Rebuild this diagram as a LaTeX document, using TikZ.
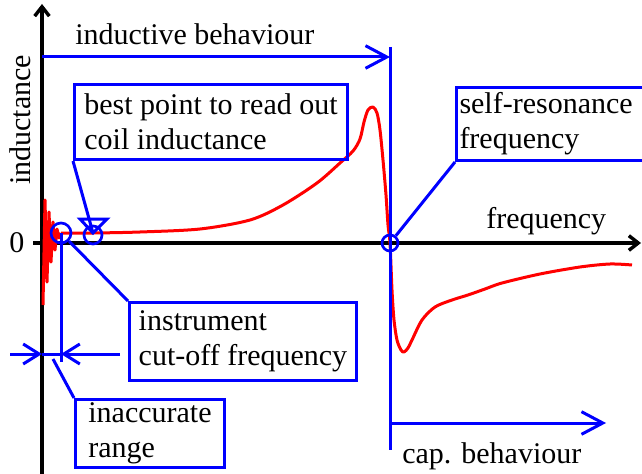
\documentclass[tikz,border=0pt]{standalone}
\usepackage{fontspec}
\setmainfont{Liberation Serif}
\usetikzlibrary{arrows.meta}
\begin{document}
\begin{tikzpicture}[x=0.75pt,y=-0.75pt,
  txt/.style={font=\fontsize{22.5pt}{26pt}\selectfont, inner sep=0pt},
  bl/.style={draw=blue, line width=2.25pt},
  ax/.style={draw=black, line width=2.6pt, -{Straight Barb[length=7pt,width=11pt]}},
  box/.style={txt, draw=blue, line width=2.25pt, align=left, inner sep=0pt},
  barb/.style={bl, -{Straight Barb[length=16pt,width=17pt]}},
  smallbarb/.style={bl, -{Straight Barb[length=12pt,width=15pt]}},
  ring/.style={circle, draw=blue, line width=2pt, inner sep=0pt},
  curve/.style={draw=red, line width=2.25pt, line join=round}]
\useasboundingbox (0,0) rectangle (642,474);
\clip (0,0) rectangle (642,474);
% axes
\coordinate (ybot) at (42,474);
\coordinate (ytop) at (42,4);
\coordinate (xl) at (33,243);
\coordinate (xr) at (641,243);
\draw[ax] (ybot) -- (ytop);
\draw[ax] (xl) -- (xr);
\node[txt, rotate=90] (ylab) at (20,120) {inductance};
\node[txt] (zero) at (17,243) {0};
\node[txt, anchor=base west] (freq) at (486,228) {frequency};
% red curve
\draw[curve] (43,305) -- (45,200) -- (47,282) -- (49,212) -- (51,262) -- (53,222) -- (55,250) -- (57,229) -- (59,238) -- (61,233);
\draw[curve] plot[smooth, tension=0.5] coordinates {(61,233) (93,233) (140,232) (200,229) (250,220) (283,205) (317,183) (340,163) (353,151) (360,139) (364,122) (368,110) (373,107) (377,113) (380,130) (383,160) (386,195) (388,225) (390,243) (392,290) (394,320) (397,340) (401,350) (404,352) (408,348) (412,340) (422,320) (435,307) (452,300) (468,295) (485,289) (502,283) (540,274) (580,267) (610,264) (632,265)};
% inductive behaviour
\node[txt, anchor=base west] (indtxt) at (75,45) {inductive behaviour};
\coordinate (indl) at (42,57);
\coordinate (indr) at (390,57);
\draw[barb] (indl) -- (indr);
\coordinate (vtop) at (390,47);
\coordinate (vbot) at (390,450);
\draw[bl] (vtop) -- (vbot);
% cap behaviour
\coordinate (capl) at (392,423);
\coordinate (capr) at (606,423);
\draw[barb] (capl) -- (capr);
\node[txt, anchor=base west] (captxt) at (402,463) {cap. behaviour};
% best point box
\node[box, anchor=north west, minimum width=204.75pt, minimum height=56.25pt] (best) at (73,83) {best point to read out\\coil inductance};
\node[ring, minimum size=13.5pt] (c2) at (93,235) {};
\coordinate (tri1) at (80,219);
\coordinate (tri2) at (107,219);
\coordinate (tri3) at (93,233);
\draw[bl, line join=miter] (tri1) -- (tri2) -- (tri3) -- cycle;
\draw[bl] (best.south west) -- (tri3);
% instrument cut-off
\node[ring, minimum size=15pt] (c1) at (61,233) {};
\node[box, anchor=north west, minimum width=170.25pt, minimum height=58.5pt] (inst) at (128,301) {instrument\\cut-off frequency};
\draw[bl] (c1) -- (inst.north west);
\coordinate (c1bot) at (61,362);
\draw[bl] (c1.center) -- (c1bot);
\coordinate (dl) at (10,354);
\coordinate (da) at (42,354);
\coordinate (db) at (61,354);
\coordinate (dr) at (120,354);
\draw[smallbarb] (dl) -- (da);
\draw[bl] (da) -- (db);
\draw[smallbarb] (dr) -- (db);
% inaccurate range
\node[box, anchor=north west, minimum width=111.75pt, minimum height=51pt] (inacc) at (74,398) {inaccurate\\range};
\coordinate (ia) at (53,359);
\draw[bl] (ia) -- (inacc.north west);
% self-resonance
\node[ring, minimum size=12pt] (c3) at (390,243) {};
\node[box, anchor=north west, text width=220pt, inner xsep=2.25pt, minimum height=54.75pt] (res) at (455,86) {self-resonance\\frequency};
\draw[bl] (c3) -- (res.south west);
\end{tikzpicture}
\end{document}
